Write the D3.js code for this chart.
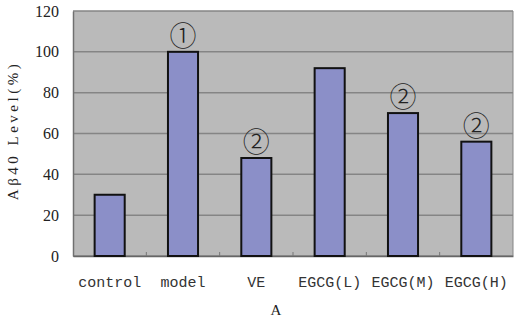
<!DOCTYPE html>
<html lang="en">
<head>
  <meta charset="UTF-8">
  <title>Abeta40 level</title>
  <style>
    body { margin: 0; background: #fff; }
  </style>
</head>
<body>
<script src="https://cdn.jsdelivr.net/npm/d3@7"></script>
<script>
  var categories = ["control", "model", "VE", "EGCG(L)", "EGCG(M)", "EGCG(H)"];
  var values = [30, 100, 48, 92, 70, 56];
  var marks = ["", "\u2460", "\u2461", "", "\u2461", "\u2461"];
  var yTicks = [0, 20, 40, 60, 80, 100, 120];

  var margin = {top: 11, right: 1, bottom: 64, left: 73}
  , width = 514 - margin.left - margin.right
  , height = 320 - margin.top - margin.bottom;

  var svg = d3.select("body").append("svg")
    .attr("width", 514)
    .attr("height", 320)
    .append("g")
    .attr("transform", "translate(" + margin.left + "," + margin.top + ")");

  var xScale = d3.scaleBand()
    .domain(categories)
    .range([0, width]);
  var yScale = d3.scaleLinear()
    .domain([0, 120])
    .range([height, 0]);

  // plot background
  svg.append("rect")
    .attr("width", width)
    .attr("height", height)
    .attr("fill", "#bababa");

  // grid lines
  svg.selectAll(".grid")
    .data(yTicks)
    .enter().append("line")
    .attr("x1", 0).attr("x2", width)
    .attr("y1", d => yScale(d)).attr("y2", d => yScale(d))
    .attr("stroke", "#858585")
    .attr("stroke-width", 1.5);

  // right border
  svg.append("line")
    .attr("x1", width).attr("x2", width)
    .attr("y1", 0).attr("y2", height)
    .attr("stroke", "#858585");

  var yAxis = svg.append("g")
    .call(d3.axisLeft(yScale).tickValues(yTicks).tickSize(0).tickPadding(14));
  yAxis.select(".domain").attr("stroke", "#707070").attr("stroke-width", 1.5);
  yAxis.selectAll("text")
    .style("font-family", "'Liberation Serif', serif")
    .style("font-size", "16px")
    .attr("fill", "#222");

  var xAxis = svg.append("g")
    .attr("transform", "translate(0," + height + ")")
    .call(d3.axisBottom(xScale).tickSize(0).tickPadding(20));
  xAxis.select(".domain").attr("stroke", "#666").attr("stroke-width", 1.5);
  xAxis.selectAll("text")
    .style("font-family", "'Liberation Mono', monospace")
    .style("font-size", "15px")
    .attr("fill", "#333");

  // small ticks between categories
  svg.selectAll(".sep")
    .data(categories.slice(1))
    .enter().append("line")
    .attr("x1", d => xScale(d)).attr("x2", d => xScale(d))
    .attr("y1", height - 4).attr("y2", height)
    .attr("stroke", "#777");

  var bw = xScale.bandwidth() * 0.41;
  svg.selectAll(".bar")
    .data(values)
    .enter().append("rect")
    .attr("x", (d, i) => xScale(categories[i]) + (xScale.bandwidth() - bw) / 2)
    .attr("y", d => yScale(d))
    .attr("width", bw)
    .attr("height", d => height - yScale(d))
    .attr("fill", "#8b8fc8")
    .attr("stroke", "#111")
    .attr("stroke-width", 2);

  svg.selectAll(".mark")
    .data(values)
    .enter().append("text")
    .attr("x", (d, i) => xScale(categories[i]) + xScale.bandwidth() / 2)
    .attr("y", d => yScale(d) - 6)
    .attr("text-anchor", "middle")
    .style("font-family", "'Noto Sans CJK SC', sans-serif")
    .style("font-weight", 300)
    .style("font-size", "27px")
    .attr("fill", "#222")
    .text((d, i) => marks[i]);

  svg.append("text")
    .attr("transform", "translate(" + (-55) + "," + (height / 2 - 3) + ") rotate(-90)")
    .attr("text-anchor", "middle")
    .style("font-family", "'Liberation Serif', serif")
    .style("font-size", "15px")
    .style("letter-spacing", "3.5px")
    .attr("fill", "#222")
    .text("A\u03b240 Level(%)");

  svg.append("text")
    .attr("x", width / 2 - 17)
    .attr("y", height + 59)
    .attr("text-anchor", "middle")
    .style("font-family", "'Liberation Serif', serif")
    .style("font-size", "15px")
    .attr("fill", "#222")
    .text("A");
</script>
</body>
</html>
